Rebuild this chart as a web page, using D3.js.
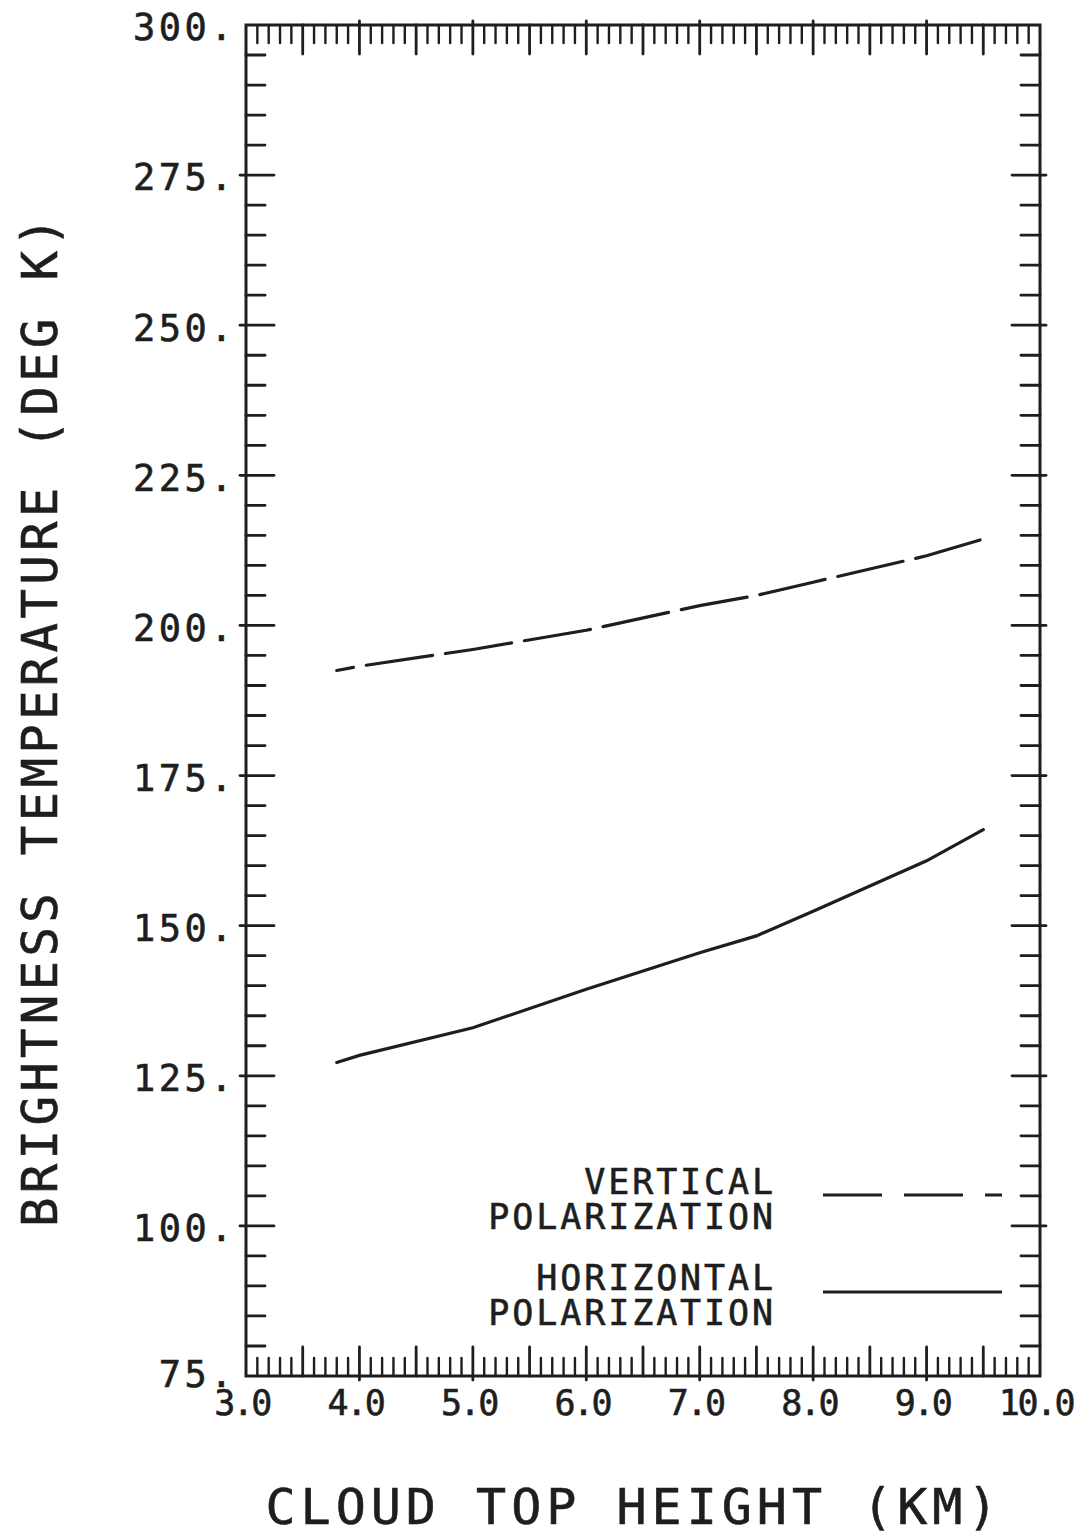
<!DOCTYPE html>
<html>
<head>
<meta charset="utf-8">
<script src="https://cdn.jsdelivr.net/npm/d3@7"></script>
<style>
  html, body { margin: 0; padding: 0; background: #ffffff; }
  svg { display: block; }
  text { font-family: "DejaVu Sans Mono", "Liberation Mono", monospace; fill: #1e1e1e; stroke: #1e1e1e; stroke-width: 0.6px; }
</style>
</head>
<body>
<div id="chart"></div>
<script>
// ---- data ----
const heightKm = [3.8, 4.0, 5.0, 6.0, 7.0, 7.5, 8.0, 9.0, 9.5];
const verticalPol = [192.5, 193.2, 196.0, 199.2, 203.3, 205.0, 207.2, 211.6, 214.4];
const horizontalPol = [127.2, 128.4, 133.0, 139.4, 145.5, 148.3, 152.4, 160.8, 166.0];

const yTicks = [300, 275, 250, 225, 200, 175, 150, 125, 100, 75];
const yTickLabels = ["300.", "275.", "250.", "225.", "200.", "175.", "150.", "125.", "100.", "75."];
const xTicks = [3, 4, 5, 6, 7, 8, 9, 10];
const xTickLabels = ["3.0", "4.0", "5.0", "6.0", "7.0", "8.0", "9.0", "10.0"];

const seriesNames = ["VERTICAL\nPOLARIZATION", "HORIZONTAL\nPOLARIZATION"];
const xTitle = "CLOUD TOP HEIGHT (KM)";
const yTitle = "BRIGHTNESS TEMPERATURE (DEG K)";

// ---- layout ----
const W = 1077, H = 1535;
const mLeft = 246, mRight = 1040, mTop = 25, mBottom = 1376;
const ink = "#1e1e1e";

const x = d3.scaleLinear().domain([3, 10]).range([mLeft, mRight]);
const y = d3.scaleLinear().domain([75, 300]).range([mBottom, mTop]);

const svg = d3.select("#chart").append("svg")
  .attr("width", W).attr("height", H);

svg.append("rect").attr("width", W).attr("height", H).attr("fill", "#fff");

const g = svg.append("g")
  .attr("stroke", ink).attr("stroke-linecap", "round").attr("fill", "none");

// frame
g.append("rect")
  .attr("x", mLeft).attr("y", mTop)
  .attr("width", mRight - mLeft).attr("height", mBottom - mTop)
  .attr("stroke-width", 3);

// x minor ticks (0.1 km), longer at 0.5
const xMinor = d3.range(30, 101).map(d => d / 10);
xMinor.forEach(v => {
  const k = Math.round(v * 10);
  if (k === 30 || k === 100) return;
  const major = k % 5 === 0;
  const len = major ? 29 : 18;
  const out = (k % 10 === 0) ? 4 : 0;
  g.append("line")
    .attr("x1", x(v)).attr("x2", x(v))
    .attr("y1", mTop - out).attr("y2", mTop + len)
    .attr("stroke-width", major ? 2.8 : 2.4);
  g.append("line")
    .attr("x1", x(v)).attr("x2", x(v))
    .attr("y1", mBottom + out).attr("y2", mBottom - len)
    .attr("stroke-width", major ? 2.8 : 2.4);
});

// y minor ticks every 5, longer at 25
const yMinor = d3.range(75, 301, 5);
yMinor.forEach(v => {
  if (v === 75 || v === 300) return;
  const major = v % 25 === 0;
  const len = major ? 28 : 19;
  const out = major ? 6 : 0;
  g.append("line")
    .attr("x1", mLeft - out).attr("x2", mLeft + len)
    .attr("y1", y(v)).attr("y2", y(v))
    .attr("stroke-width", 2.8);
  g.append("line")
    .attr("x1", mRight + out).attr("x2", mRight - len)
    .attr("y1", y(v)).attr("y2", y(v))
    .attr("stroke-width", 2.8);
});

// y tick labels
svg.append("g").selectAll("text")
  .data(yTicks)
  .join("text")
  .attr("x", 236)
  .attr("y", d => y(d) + (d === 75 ? -2 : 2))
  .attr("dy", "0.36em")
  .attr("text-anchor", "end")
  .attr("font-size", 37)
  .attr("letter-spacing", 3.5)
  .text((d, i) => yTickLabels[i]);

// x tick labels
svg.append("g").selectAll("text")
  .data(xTicks)
  .join("text")
  .attr("x", d => x(d) - 4)
  .attr("y", 1402)
  .attr("dy", "0.36em")
  .attr("text-anchor", "middle")
  .attr("font-size", 35)
  .attr("letter-spacing", -2.5)
  .text((d, i) => xTickLabels[i]);

// series lines
const line = d3.line()
  .x(d => x(d[0]))
  .y(d => y(d[1]));

const vertPts = heightKm.map((h, i) => [h, verticalPol[i]]);
const horzPts = heightKm.map((h, i) => [h, horizontalPol[i]]);

g.append("path")
  .attr("d", line(vertPts))
  .attr("stroke-width", 3.2)
  .attr("stroke-dasharray", "67,13")
  .attr("stroke-dashoffset", 50);

g.append("path")
  .attr("d", line(horzPts))
  .attr("stroke-width", 3.2);

// legend
const legendRows = [
  { name: seriesNames[0], y1: 1181, ly: 1195, dash: "59,22" },
  { name: seriesNames[1], y1: 1277, ly: 1292, dash: null }
];
legendRows.forEach(r => {
  const parts = r.name.split("\n");
  parts.forEach((p, j) => {
    svg.append("text")
      .attr("x", 776)
      .attr("y", r.y1 + j * 35)
      .attr("dy", "0.36em")
      .attr("text-anchor", "end")
      .attr("font-size", 35)
      .attr("letter-spacing", 2.9)
      .text(p);
  });
  const l = g.append("line")
    .attr("x1", 823).attr("x2", 1002)
    .attr("y1", r.ly).attr("y2", r.ly)
    .attr("stroke-width", 2.8)
    .attr("stroke-linecap", "butt");
  if (r.dash) l.attr("stroke-dasharray", r.dash);
});

// axis titles
svg.append("text")
  .attr("x", 634)
  .attr("y", 1506)
  .attr("dy", "0.36em")
  .attr("text-anchor", "middle")
  .attr("font-size", 50)
  .attr("letter-spacing", 5)
  .text(xTitle);

svg.append("text")
  .attr("transform", "translate(39,720) rotate(-90)")
  .attr("dy", "0.36em")
  .attr("text-anchor", "middle")
  .attr("font-size", 49)
  .attr("letter-spacing", 4.3)
  .text(yTitle);
</script>
</body>
</html>
